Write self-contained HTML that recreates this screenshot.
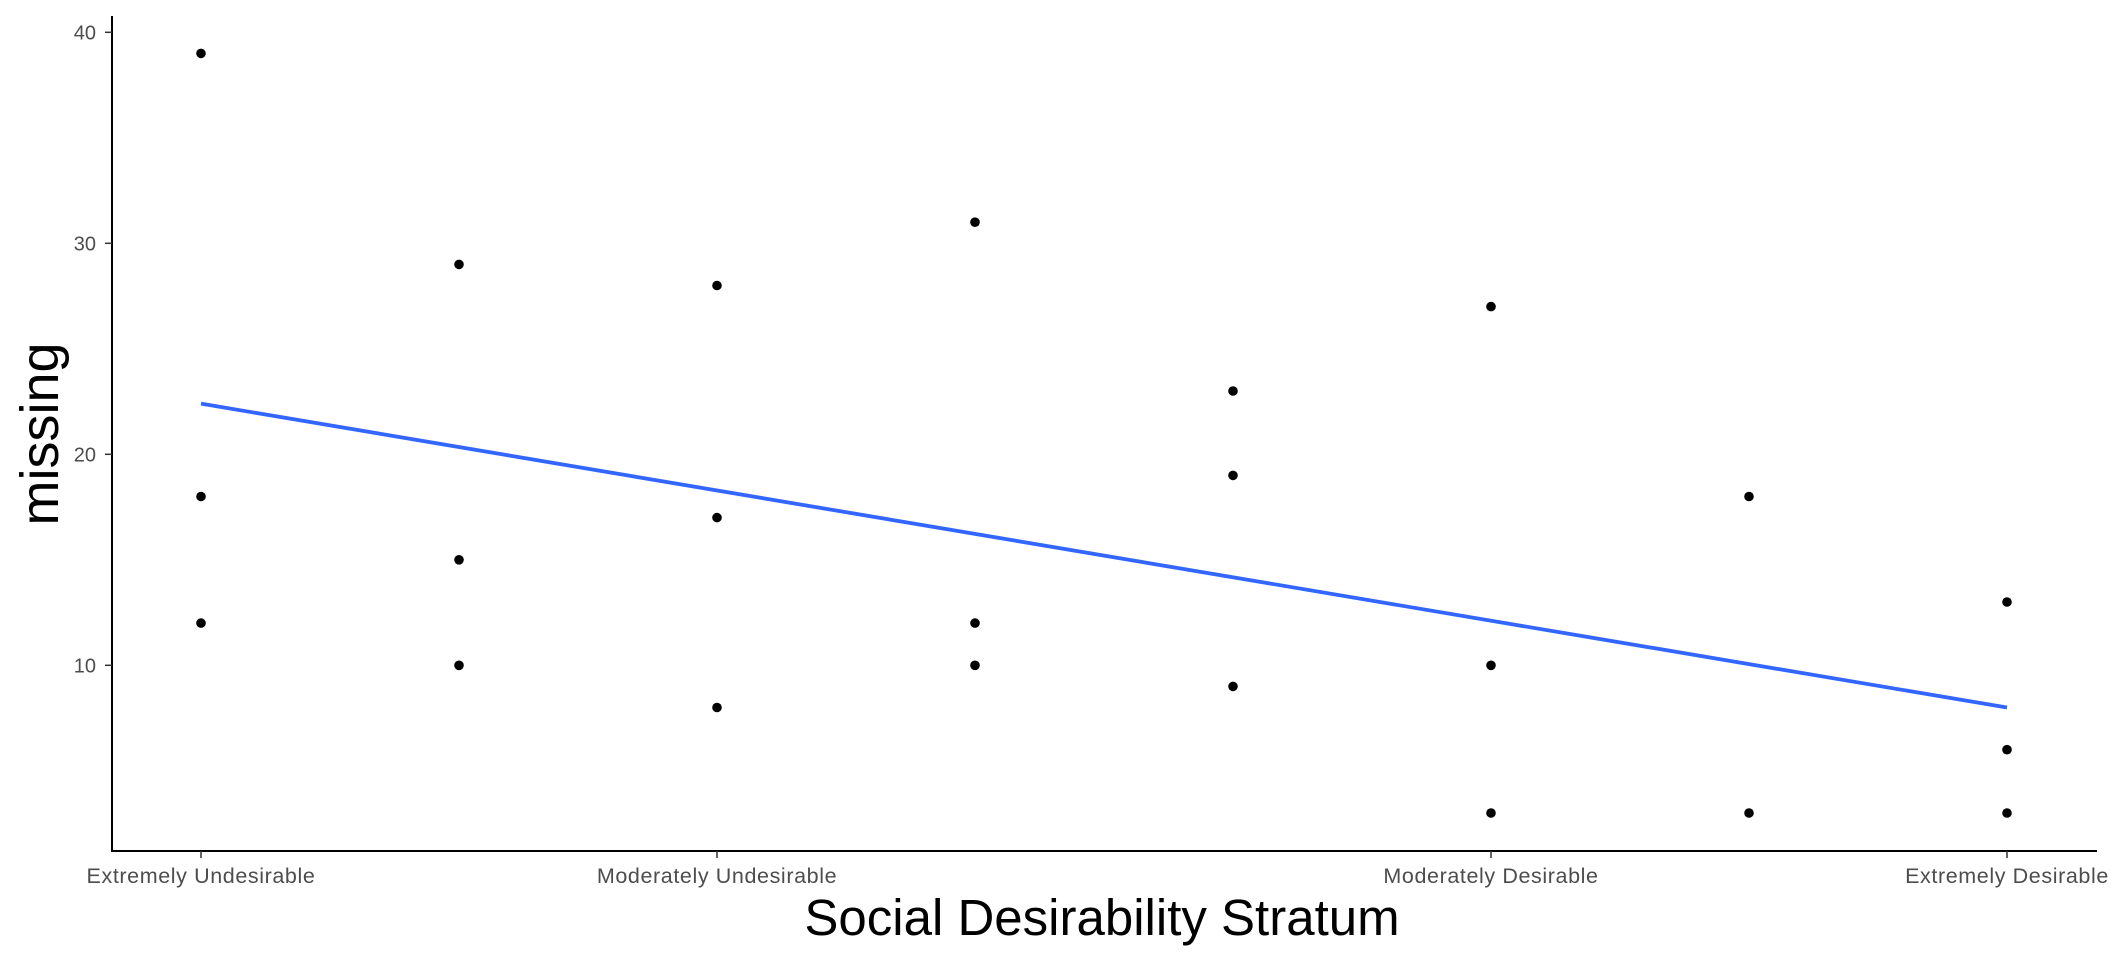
<!DOCTYPE html>
<html><head><meta charset="utf-8"><style>
html,body{margin:0;padding:0;background:#fff;}
svg{display:block;font-family:"Liberation Sans",Arial,sans-serif;}
</style></head><body>
<svg id="chart" width="2112" height="960">
<g id="axes"></g>
<g id="marks"></g>
</svg>
<script>
const xCats = [1,1,1,2,2,2,3,3,3,4,4,4,5,5,5,6,6,6,7,7,8,8,8];
const yVals = [39,18,12,29,15,10,28,17,8,31,12,10,23,19,9,27,10,3,18,3,13,6,3];
const xTickPos = [1,3,6,8];
const xTickLabels = ["Extremely Undesirable","Moderately Undesirable","Moderately Desirable","Extremely Desirable"];
const yTicks = [10,20,30,40];
const fitX = [1,8];
const fitY = [22.4,8.0];

const NS="http://www.w3.org/2000/svg";
const X0=201, XSTEP=258, Y3=813, YU=21.1;
function sx(v){return X0+(v-1)*XSTEP;}
function sy(v){return Y3-(v-3)*YU;}
function mk(tag,attrs,parent){const e=document.createElementNS(NS,tag);for(const k in attrs)e.setAttribute(k,attrs[k]);parent.appendChild(e);return e;}
const axes=document.getElementById('axes'), marks=document.getElementById('marks');

let yl=mk('line',{x1:112,y1:16,x2:112,y2:851,stroke:'#000','stroke-width':2},axes);


let xl=mk('line',{x1:111,y1:851,x2:2097,y2:851,stroke:'#000','stroke-width':2},axes);



yTicks.forEach(t=>{
  let tk=mk('line',{x1:105,y1:sy(t),x2:112,y2:sy(t),stroke:'#333','stroke-width':1.5},axes);
  
  
  let lb=mk('text',{x:96,y:sy(t)+7,'text-anchor':'end','font-size':20,fill:'#4d4d4d'},axes);
  lb.textContent=t;
  
  
});
xTickPos.forEach((p,i)=>{
  let tk=mk('line',{x1:sx(p),y1:851,x2:sx(p),y2:858,stroke:'#333','stroke-width':1.5},axes);
  
  
  let lb=mk('text',{x:sx(p),y:883,'text-anchor':'middle','font-size':21.5,fill:'#4d4d4d','letter-spacing':0.6},axes);
  lb.textContent=xTickLabels[i];
  
  
});
let xt=mk('text',{x:1102,y:935,'text-anchor':'middle','font-size':51,fill:'#000'},axes);
xt.textContent='Social Desirability Stratum';


let yt=mk('text',{x:0,y:0,'text-anchor':'middle','font-size':54,fill:'#000',transform:'translate(58,434) rotate(-90)'},axes);
yt.textContent='missing';



xCats.forEach((c,i)=>{
  let p=mk('circle',{cx:sx(c),cy:sy(yVals[i]),r:4.8,fill:'#000'},marks);
  
  
});
let fl=mk('line',{x1:sx(fitX[0]),y1:sy(fitY[0]),x2:sx(fitX[1]),y2:sy(fitY[1]),stroke:'#3366FF','stroke-width':3.8},marks);


</script>
</body></html>
